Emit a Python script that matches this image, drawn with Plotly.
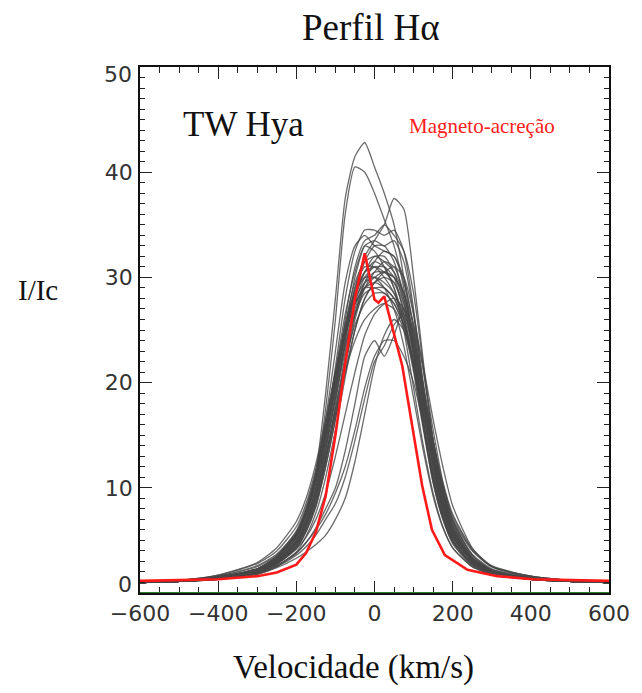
import plotly.graph_objects as go

# Velocity grid (km/s) for observed profiles
velocity = [-600, -500, -400, -300, -250, -200, -175, -150, -125, -100, -75, -50, -25, 0,
            25, 50, 75, 100, 125, 150, 175, 200, 250, 300, 400, 500, 600]

obs_a01 = [1.0, 1.1, 1.4, 2.0, 2.9, 4.6, 6.4, 9.2, 13.5, 18.5, 23.5, 27.5, 30.0, 31.0, 31.0, 30.0, 26.5, 21.5, 16.0, 11.0, 7.4, 5.0, 2.8, 1.9, 1.3, 1.1, 1.0]
obs_a02 = [1.0, 1.1, 1.5, 2.2, 3.2, 5.2, 7.3, 10.5, 15.0, 20.0, 24.5, 27.5, 29.0, 29.5, 29.0, 28.0, 25.5, 21.0, 15.5, 10.5, 7.0, 4.7, 2.6, 1.8, 1.3, 1.1, 1.0]
obs_a03 = [1.0, 1.1, 1.4, 1.9, 2.7, 4.2, 5.8, 8.2, 12.0, 16.5, 21.5, 26.0, 29.0, 30.5, 31.5, 31.0, 28.5, 24.0, 18.5, 13.0, 8.8, 5.8, 3.1, 2.0, 1.4, 1.1, 1.0]
obs_a04 = [1.0, 1.1, 1.5, 2.3, 3.4, 5.6, 7.8, 11.0, 15.5, 20.5, 25.0, 28.5, 30.5, 31.5, 31.0, 29.0, 25.0, 19.5, 14.0, 9.5, 6.3, 4.3, 2.5, 1.8, 1.3, 1.1, 1.0]
obs_a05 = [1.0, 1.1, 1.4, 2.0, 2.8, 4.4, 6.1, 8.6, 12.5, 17.0, 22.0, 26.5, 29.5, 31.5, 32.5, 32.0, 29.5, 25.5, 20.0, 14.5, 9.8, 6.5, 3.4, 2.1, 1.4, 1.1, 1.0]
obs_a06 = [1.0, 1.1, 1.4, 2.1, 3.0, 4.9, 6.8, 9.6, 14.0, 19.0, 24.0, 28.0, 30.5, 32.0, 32.0, 30.5, 27.5, 22.5, 16.5, 11.5, 7.6, 5.1, 2.8, 1.9, 1.3, 1.1, 1.0]
obs_a07 = [1.0, 1.1, 1.3, 1.8, 2.5, 3.9, 5.4, 7.6, 11.0, 15.5, 20.5, 25.0, 28.0, 29.5, 30.0, 29.5, 27.5, 24.0, 19.0, 14.0, 9.5, 6.3, 3.3, 2.1, 1.4, 1.1, 1.0]
obs_a08 = [1.0, 1.1, 1.5, 2.3, 3.5, 5.9, 8.2, 11.5, 16.0, 21.0, 25.5, 28.5, 30.0, 30.0, 29.0, 27.0, 23.5, 18.5, 13.5, 9.2, 6.2, 4.3, 2.5, 1.8, 1.3, 1.1, 1.0]
obs_a09 = [1.0, 1.1, 1.4, 2.0, 2.9, 4.7, 6.5, 9.0, 13.0, 17.5, 22.5, 26.5, 29.0, 30.0, 30.5, 30.0, 28.0, 24.5, 19.5, 14.5, 10.0, 6.8, 3.6, 2.2, 1.4, 1.1, 1.0]
obs_a10 = [1.0, 1.1, 1.4, 2.2, 3.1, 5.0, 7.0, 10.0, 14.5, 19.5, 24.5, 28.5, 31.5, 33.0, 33.0, 31.5, 28.0, 23.0, 17.0, 12.0, 8.0, 5.4, 3.0, 2.0, 1.4, 1.1, 1.0]
obs_a11 = [1.0, 1.1, 1.4, 2.0, 2.8, 4.5, 6.2, 8.8, 12.8, 17.5, 22.0, 25.5, 27.5, 28.5, 28.5, 27.5, 25.5, 22.0, 17.5, 13.0, 9.0, 6.0, 3.2, 2.1, 1.4, 1.1, 1.0]
obs_a12 = [1.0, 1.1, 1.5, 2.2, 3.2, 5.3, 7.4, 10.5, 15.0, 20.0, 25.0, 29.0, 31.0, 31.0, 30.0, 28.5, 26.0, 21.5, 16.0, 11.0, 7.3, 5.0, 2.8, 1.9, 1.3, 1.1, 1.0]
obs_b01 = [1.0, 1.1, 1.5, 2.2, 3.2, 5.3, 7.5, 10.8, 15.5, 21.5, 28.0, 32.5, 34.5, 34.5, 34.0, 34.5, 32.5, 27.0, 19.5, 13.0, 8.5, 5.6, 3.0, 2.0, 1.4, 1.1, 1.0]
obs_b02 = [1.0, 1.1, 1.4, 2.1, 3.0, 5.0, 7.0, 10.0, 14.5, 20.0, 26.0, 31.0, 33.5, 34.0, 35.0, 34.0, 32.5, 28.5, 21.5, 14.5, 9.5, 6.2, 3.3, 2.1, 1.4, 1.1, 1.0]
obs_b03 = [1.0, 1.1, 1.4, 2.0, 2.9, 4.7, 6.5, 9.3, 13.5, 19.0, 25.0, 30.0, 33.0, 33.5, 33.0, 33.5, 31.5, 26.5, 19.5, 13.0, 8.6, 5.7, 3.1, 2.0, 1.4, 1.1, 1.0]
obs_b04 = [1.0, 1.1, 1.5, 2.3, 3.3, 5.5, 7.8, 11.2, 16.5, 23.0, 29.5, 33.0, 34.0, 33.0, 32.5, 32.0, 30.0, 25.0, 18.5, 12.5, 8.2, 5.5, 3.0, 2.0, 1.4, 1.1, 1.0]
obs_c01 = [1.0, 1.1, 1.5, 2.3, 3.5, 5.6, 7.9, 11.5, 19.0, 28.0, 37.5, 41.5, 42.8, 40.5, 38.0, 35.0, 30.0, 23.5, 16.0, 10.5, 7.0, 4.8, 2.7, 1.9, 1.3, 1.1, 1.0]
obs_c02 = [1.0, 1.1, 1.5, 2.3, 3.4, 5.5, 7.6, 11.0, 17.5, 26.0, 36.0, 40.5, 40.0, 38.0, 35.5, 33.0, 29.0, 23.0, 16.0, 10.8, 7.2, 4.9, 2.7, 1.9, 1.3, 1.1, 1.0]
obs_c03 = [1.0, 1.1, 1.4, 2.0, 2.8, 4.4, 6.0, 8.5, 12.5, 18.0, 24.0, 29.0, 32.0, 33.5, 35.0, 37.5, 36.5, 30.0, 22.0, 14.5, 9.5, 6.5, 3.4, 2.2, 1.4, 1.1, 1.0]
obs_d01 = [1.0, 1.1, 1.3, 1.8, 2.4, 3.3, 3.9, 4.6, 5.5, 7.0, 9.0, 12.5, 17.0, 21.5, 24.5, 26.0, 25.0, 22.0, 17.0, 12.0, 8.0, 5.4, 3.0, 2.0, 1.4, 1.1, 1.0]
obs_d02 = [1.0, 1.1, 1.3, 1.8, 2.5, 3.6, 4.4, 5.5, 7.0, 8.5, 11.0, 14.5, 18.5, 22.0, 23.5, 25.5, 26.5, 23.5, 18.0, 12.5, 8.4, 5.6, 3.1, 2.0, 1.4, 1.1, 1.0]
obs_d03 = [1.0, 1.1, 1.4, 1.9, 2.6, 3.8, 4.8, 6.2, 8.0, 10.0, 13.5, 18.0, 22.5, 24.0, 22.5, 24.5, 27.0, 25.0, 19.5, 13.5, 9.0, 6.0, 3.2, 2.1, 1.4, 1.1, 1.0]
obs_d04 = [1.0, 1.1, 1.4, 2.0, 2.8, 4.2, 5.3, 7.0, 9.5, 13.0, 17.0, 21.0, 24.5, 26.5, 27.5, 28.0, 27.0, 23.0, 17.5, 12.0, 8.0, 5.3, 3.0, 2.0, 1.4, 1.1, 1.0]
obs_e01 = [1.0, 1.2, 1.7, 2.8, 4.0, 6.3, 8.5, 11.8, 16.0, 20.5, 24.5, 27.5, 29.0, 29.0, 28.5, 27.5, 25.5, 22.0, 18.0, 13.5, 9.8, 7.0, 4.0, 2.5, 1.6, 1.2, 1.0]
obs_e02 = [1.0, 1.2, 1.6, 2.6, 3.7, 5.8, 7.9, 11.0, 15.5, 20.5, 25.0, 28.5, 30.5, 31.0, 30.5, 29.5, 27.0, 23.5, 19.0, 14.5, 10.5, 7.5, 4.2, 2.6, 1.6, 1.2, 1.0]
obs_f01 = [1.0, 1.2, 1.7, 2.9, 4.3, 6.8, 9.0, 12.3, 16.5, 21.0, 25.0, 28.0, 29.5, 30.0, 29.5, 28.5, 26.5, 23.0, 18.5, 14.0, 10.2, 7.3, 4.1, 2.5, 1.6, 1.2, 1.0]
obs_f02 = [1.0, 1.1, 1.4, 2.1, 3.0, 4.8, 6.6, 9.3, 13.0, 17.0, 21.0, 24.0, 26.0, 27.0, 27.5, 27.0, 25.0, 21.5, 17.0, 12.5, 8.8, 6.0, 3.3, 2.1, 1.4, 1.1, 1.0]
obs_f03 = [1.0, 1.1, 1.5, 2.2, 3.3, 5.4, 7.5, 10.8, 15.5, 21.0, 26.5, 30.5, 33.0, 32.5, 31.0, 29.0, 26.0, 21.5, 16.0, 11.0, 7.4, 5.0, 2.8, 1.9, 1.3, 1.1, 1.0]
obs_f04 = [1.0, 1.1, 1.4, 2.0, 2.8, 4.3, 5.9, 8.3, 12.0, 16.5, 21.0, 25.0, 28.0, 29.5, 30.5, 31.0, 30.0, 26.5, 21.0, 15.5, 10.5, 7.0, 3.6, 2.2, 1.4, 1.1, 1.0]
obs_f05 = [1.0, 1.2, 1.6, 2.5, 3.6, 5.7, 7.8, 10.8, 15.0, 19.5, 23.5, 26.5, 28.5, 29.0, 29.0, 28.0, 26.0, 22.5, 18.0, 13.5, 9.6, 6.7, 3.7, 2.3, 1.5, 1.2, 1.0]
obs_f06 = [1.0, 1.1, 1.5, 2.2, 3.1, 5.0, 7.0, 10.0, 14.5, 20.0, 25.5, 29.5, 31.5, 32.0, 31.5, 30.5, 28.5, 24.5, 19.0, 13.5, 9.0, 6.0, 3.2, 2.0, 1.4, 1.1, 1.0]
obs_f07 = [1.0, 1.1, 1.3, 1.9, 2.6, 3.8, 4.8, 6.0, 7.5, 9.5, 12.0, 15.5, 19.5, 22.5, 24.0, 24.0, 22.5, 20.0, 16.0, 11.5, 7.8, 5.3, 3.0, 2.0, 1.4, 1.1, 1.0]
obs_f08 = [1.0, 1.1, 1.4, 2.1, 3.0, 4.8, 6.7, 9.5, 13.8, 18.5, 23.0, 27.0, 29.5, 30.5, 30.5, 30.0, 28.5, 25.5, 21.5, 16.5, 12.0, 8.3, 4.3, 2.5, 1.5, 1.2, 1.0]

observed = [obs_a01, obs_a02, obs_a03, obs_a04, obs_a05, obs_a06, obs_a07, obs_a08,
            obs_a09, obs_a10, obs_a11, obs_a12, obs_b01, obs_b02, obs_b03, obs_b04,
            obs_c01, obs_c02, obs_c03, obs_d01, obs_d02, obs_d03, obs_d04, obs_e01, obs_e02,
            obs_f01, obs_f02, obs_f03, obs_f04, obs_f05, obs_f06, obs_f07, obs_f08]

# Magnetospheric accretion model profile
model_velocity = [-600, -500, -400, -300, -250, -200, -175, -150, -125, -100, -75, -50, -25, 0,
                  10, 25, 46, 71, 96, 122, 147, 180, 238, 314, 406, 500, 600]
model_intensity = [1.15, 1.2, 1.3, 1.6, 1.95, 2.7, 3.8, 5.8, 9.2, 15.0, 21.8, 28.0, 32.3, 27.9,
                   27.6, 28.2, 25.3, 21.6, 16.0, 10.2, 6.0, 3.6, 2.2, 1.6, 1.3, 1.2, 1.15]

x_ticks = [-600, -400, -200, 0, 200, 400, 600]
y_ticks = [0, 10, 20, 30, 40, 50]
y_tick_text = ["", "10", "20", "30", "40", ""]   # 0 and 50 drawn nudged inside, as in the reference

fig = go.Figure()
for prof in observed:
    fig.add_trace(go.Scatter(x=velocity, y=prof, mode="lines",
                             line=dict(color="rgba(70,70,70,0.8)", width=1.3, shape="spline", smoothing=0.6),
                             showlegend=False, hoverinfo="skip"))
fig.add_trace(go.Scatter(x=model_velocity, y=model_intensity, mode="lines",
                         line=dict(color="#ff1a1a", width=2.6), showlegend=False, hoverinfo="skip"))

# green zero line along the bottom
fig.add_shape(type="line", xref="x", yref="y", x0=-600, x1=600, y0=0, y1=0,
              line=dict(color="#2e7d32", width=2), layer="above")

tickfont = dict(family="DejaVu Sans", size=22, color="#333333")
fig.update_xaxes(range=[-600, 600], tickvals=x_ticks, ticks="inside", ticklen=12, tickwidth=1.3,
                 tickcolor="#222", showline=True, linecolor="#111", linewidth=1.6, mirror="ticks",
                 showgrid=False, zeroline=False, tickfont=tickfont, ticklabelstandoff=0,
                 minor=dict(dtick=50, ticks="inside", ticklen=6, tickcolor="#222", tickwidth=1.2, showgrid=False))
fig.update_yaxes(range=[0, 50], tickvals=y_ticks, ticktext=y_tick_text, ticks="inside", ticklen=12, tickwidth=1.3,
                 tickcolor="#222", showline=True, linecolor="#111", linewidth=1.6, mirror="ticks",
                 showgrid=False, zeroline=False, tickfont=tickfont, ticklabelstandoff=1,
                 minor=dict(dtick=1, ticks="inside", ticklen=5, tickcolor="#222", tickwidth=1.2, showgrid=False))

# end labels of the y axis, nudged inward
fig.add_annotation(text=str(y_ticks[0]), x=0, y=y_ticks[0], xref="paper", yref="y",
                   xanchor="right", yanchor="middle", xshift=-6, yshift=9, showarrow=False, font=tickfont)
fig.add_annotation(text=str(y_ticks[-1]), x=0, y=y_ticks[-1], xref="paper", yref="y",
                   xanchor="right", yanchor="middle", xshift=-6, yshift=-7, showarrow=False, font=tickfont)

serif = "Liberation Serif"
annotations = [
    dict(text="Perfil Hα", x=0.4927, y=1.076, size=37, color="#111"),
    dict(text="TW Hya", x=0.220, y=0.8916, size=35, color="#111"),
    dict(text="Magneto-acreção", x=0.729, y=0.888, size=21, color="#ff2020"),
    dict(text="I/Ic", x=-0.218, y=0.576, size=29, color="#111"),
    dict(text="Velocidade (km/s)", x=0.4560, y=-0.1407, size=33, color="#111"),
]
for a in annotations:
    fig.add_annotation(text=a["text"], x=a["x"], y=a["y"], xref="paper", yref="paper",
                       xanchor="center", yanchor="middle", showarrow=False,
                       font=dict(family=serif, size=a["size"], color=a["color"]))

fig.update_layout(width=642, height=693, margin=dict(l=140, r=25, t=67, b=100),
                  plot_bgcolor="white", paper_bgcolor="white")
fig.write_html("out.html")
